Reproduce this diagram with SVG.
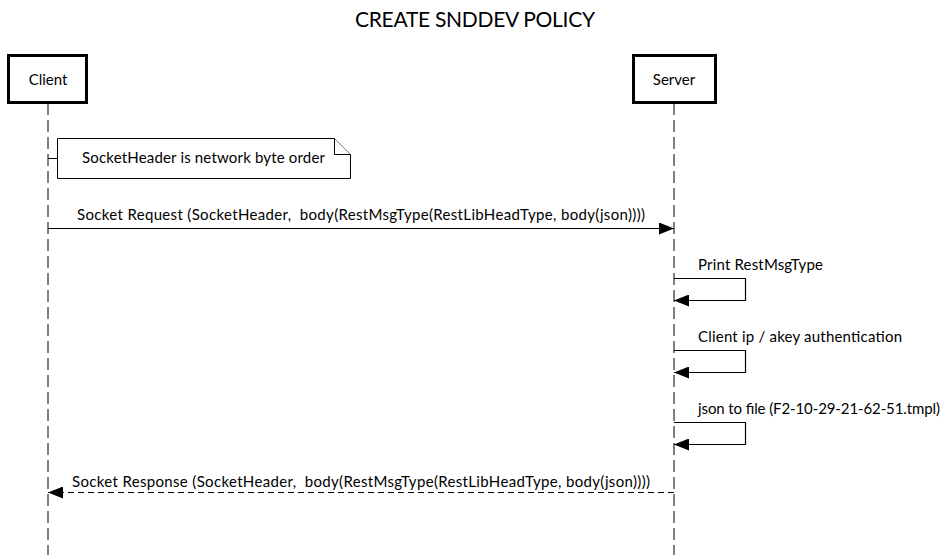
<svg xmlns="http://www.w3.org/2000/svg" width="949" height="555" viewBox="0 0 949 555">
<style>
text{font-family:"Source Sans Pro",Lato,"Liberation Sans",sans-serif;font-size:15px;fill:#000;white-space:pre}
.actor{fill:#fff;stroke:#000;stroke-width:3}
.life{stroke:#000;stroke-width:1;stroke-dasharray:12,5;fill:none}
.msg{stroke:#000;stroke-width:1.2;fill:none}
.dash{stroke-dasharray:6,4}
.note{fill:#fff;stroke:#000;stroke-width:1}
</style>
<defs>
<marker id="ah" viewBox="0 0 15 12" refX="15" refY="6" markerWidth="15" markerHeight="12" markerUnits="userSpaceOnUse" orient="auto">
<path d="M0,0 L15,6 L0,12 Z" fill="#000"/>
</marker>
</defs>
<text x="475" y="27" text-anchor="middle" style="font-size:21px" textLength="240">CREATE SNDDEV POLICY</text>
<g id="lifelines">
<line class="life" x1="48" y1="103" x2="48" y2="555"/>
<line class="life" x1="674" y1="103" x2="674" y2="555"/>
</g>
<g id="client">
<rect class="actor" x="8.5" y="55.5" width="78" height="47"/>
<text x="48" y="85" text-anchor="middle">Client</text>
</g>
<g id="server">
<rect class="actor" x="633.5" y="55.5" width="82" height="47"/>
<text x="674" y="85" text-anchor="middle">Server</text>
</g>
<g id="note">
<path class="note" d="M57.5,138.5 H334.5 L350.5,154.5 V178.5 H57.5 Z"/>
<path class="note" d="M334.5,138.5 V154.5 H350.5" fill="none"/>
<text x="82" y="163" textLength="243">SocketHeader is network byte order</text>
</g>
<g id="connectors">
<line class="life" x1="48" y1="158.5" x2="57" y2="158.5" style="stroke-dasharray:none"/>
<line class="msg" x1="48" y1="228.5" x2="674" y2="228.5" marker-end="url(#ah)"/>
<polyline class="msg" points="674,278.5 745.5,278.5 745.5,300.5 674,300.5" marker-end="url(#ah)"/>
<polyline class="msg" points="674,350.5 745.5,350.5 745.5,372.5 674,372.5" marker-end="url(#ah)"/>
<polyline class="msg" points="674,422.5 745.5,422.5 745.5,444.5 674,444.5" marker-end="url(#ah)"/>
<line class="msg dash" x1="674" y1="492.5" x2="48" y2="492.5" marker-end="url(#ah)"/>
</g>
<g id="labels">
<text x="77" y="220" textLength="568">Socket Request (SocketHeader,  body(RestMsgType(RestLibHeadType, body(json))))</text>
<text x="698" y="270" textLength="125">Print RestMsgType</text>
<text x="698" y="342" textLength="204">Client ip / akey authentication</text>
<text x="698" y="414" textLength="242">json to file (F2-10-29-21-62-51.tmpl)</text>
<text x="72" y="487" textLength="578">Socket Response (SocketHeader,  body(RestMsgType(RestLibHeadType, body(json))))</text>
</g>
</svg>
